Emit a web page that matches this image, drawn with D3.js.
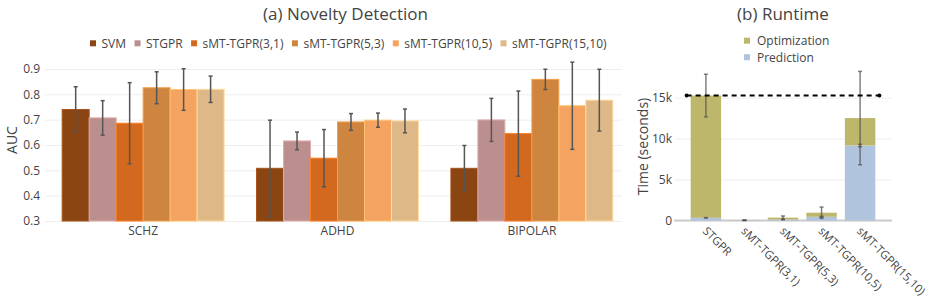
<!DOCTYPE html>
<html>
<head>
<meta charset="utf-8">
<script src="https://cdn.jsdelivr.net/npm/d3@7"></script>
<style>
	body { margin: 0; background: #fff; }
	text { font-family: "Open Sans", sans-serif; fill: #444; }
</style>
</head>
<body>
<svg id="chart" width="930" height="300"></svg>
<script>
// ---- (a) novelty detection data ----
const datasets = ['SCHZ', 'ADHD', 'BIPOLAR'];
const methods = ['SVM', 'STGPR', 'sMT-TGPR(3,1)', 'sMT-TGPR(5,3)', 'sMT-TGPR(10,5)', 'sMT-TGPR(15,10)'];
const methodColors = ['#8B4513', '#BC8F8F', '#D2691E', '#CD853F', '#F4A460', '#DEB887'];
// one row per method, columns follow datasets
const aucMean = [
	[0.740, 0.508, 0.508],
	[0.707, 0.616, 0.699],
	[0.686, 0.548, 0.645],
	[0.826, 0.691, 0.859],
	[0.819, 0.698, 0.755],
	[0.820, 0.695, 0.777]
];
const aucErr = [
	[0.090, 0.190, 0.090],
	[0.068, 0.035, 0.085],
	[0.160, 0.113, 0.168],
	[0.063, 0.033, 0.040],
	[0.082, 0.028, 0.172],
	[0.052, 0.047, 0.122]
];
const aucTicks = [0.3, 0.4, 0.5, 0.6, 0.7, 0.8, 0.9];

// ---- (b) runtime data (seconds) ----
const runModels = ['STGPR', 'sMT-TGPR(3,1)', 'sMT-TGPR(5,3)', 'sMT-TGPR(10,5)', 'sMT-TGPR(15,10)'];
const predTime = [330, 10, 120, 450, 9150];
const predErr = [20, 5, 30, 60, 150];
const optTime = [14920, 25, 230, 500, 3350];
const optErr = [2600, 15, 200, 690, 5700];
const timeTicks = [0, 5000, 10000, 15000];
const stgprLevel = 15250;
const stackNames = ['Optimization', 'Prediction'];
const stackColors = ['#BDB76B', '#B0C4DE'];

const svg = d3.select('#chart');

// ================= (a) =================
const aLeft = 45, aRight = 622;
const yA = d3.scaleLinear().domain([0.3, 0.9]).range([221, 69]);
const xA = d3.scaleBand().domain(datasets).range([46, 629])
	.paddingInner(0.167).paddingOuter(0.0833);
const xM = d3.scaleBand().domain(methods).range([0, xA.bandwidth()]);

const gA = svg.append('g');

const yAxisA = gA.append('g')
	.attr('transform', `translate(${aLeft},0)`)
	.call(d3.axisLeft(yA).tickValues(aucTicks).tickFormat(d3.format('.1f'))
		.tickSize(-(aRight - aLeft)).tickPadding(5));
yAxisA.select('.domain').remove();
yAxisA.selectAll('line').attr('stroke', '#eee');
yAxisA.selectAll('text').attr('font-size', 12).style('fill', '#444');

gA.append('text')
	.attr('transform', 'translate(17,140) rotate(-90)')
	.attr('text-anchor', 'middle')
	.attr('font-size', 14)
	.text('AUC');

const barsA = [];
methods.forEach((m, i) => {
	datasets.forEach((ds, j) => {
		barsA.push({ method: m, i: i, dataset: ds, value: aucMean[i][j], err: aucErr[i][j] });
	});
});

gA.selectAll('.bar')
	.data(barsA)
	.enter()
	.append('rect')
	.attr('class', 'bar')
	.attr('x', d => xA(d.dataset) + xM(d.method))
	.attr('y', d => yA(d.value))
	.attr('width', xM.bandwidth())
	.attr('height', d => yA(0.3) - yA(d.value))
	.attr('fill', d => methodColors[d.i])
	.attr('stroke', d => d3.color(methodColors[d.i]).brighter(0.5))
	.attr('stroke-width', 1);

const errA = gA.selectAll('.err')
	.data(barsA)
	.enter()
	.append('g')
	.attr('class', 'err')
	.attr('stroke', '#555')
	.attr('stroke-width', 1.5);
errA.append('line')
	.attr('x1', d => xA(d.dataset) + xM(d.method) + xM.bandwidth() / 2)
	.attr('x2', d => xA(d.dataset) + xM(d.method) + xM.bandwidth() / 2)
	.attr('y1', d => yA(d.value + d.err))
	.attr('y2', d => yA(d.value - d.err));
[1, -1].forEach(s => {
	errA.append('line')
		.attr('x1', d => xA(d.dataset) + xM(d.method) + xM.bandwidth() / 2 - 2)
		.attr('x2', d => xA(d.dataset) + xM(d.method) + xM.bandwidth() / 2 + 2)
		.attr('y1', d => yA(d.value + s * d.err))
		.attr('y2', d => yA(d.value + s * d.err));
});

gA.selectAll('.cat')
	.data(datasets)
	.enter()
	.append('text')
	.attr('x', d => xA(d) + xA.bandwidth() / 2)
	.attr('y', 234.5)
	.attr('text-anchor', 'middle')
	.attr('font-size', 12)
	.text(d => d);

gA.append('text')
	.attr('x', 345.5).attr('y', 19.5)
	.attr('text-anchor', 'middle')
	.attr('font-size', 17)
	.text('(a) Novelty Detection');

// legend (a)
let lx = 90;
methods.forEach((m, i) => {
	const item = gA.append('g');
	item.append('rect')
		.attr('x', lx).attr('y', 40.3)
		.attr('width', 6).attr('height', 6)
		.attr('fill', methodColors[i]);
	const t = item.append('text')
		.attr('x', lx + 11.5).attr('y', 47.5)
		.attr('font-size', 12)
		.text(m);
	lx += 11.5 + t.node().getComputedTextLength() + 8.5;
});

// ================= (b) =================
const bLeft = 675, bRight = 892;
const xB = d3.scaleBand().domain(runModels).range([674, 892])
	.paddingInner(0.21).paddingOuter(0.4325);
const yB = d3.scaleLinear().domain([0, 15000]).range([220.5, 97.6]);

const gB = svg.append('g');

const yAxisB = gB.append('g')
	.attr('transform', `translate(${bLeft},0)`)
	.call(d3.axisLeft(yB).tickValues(timeTicks).tickFormat(d3.format('~s'))
		.tickSize(-(bRight - bLeft)).tickPadding(3));
yAxisB.select('.domain').remove();
yAxisB.selectAll('line').attr('stroke', '#eee');
yAxisB.selectAll('text').attr('font-size', 12).style('fill', '#444');

gB.append('line')
	.attr('x1', 674).attr('x2', bRight)
	.attr('y1', yB(0)).attr('y2', yB(0))
	.attr('stroke', '#ccc').attr('stroke-width', 2);

gB.append('text')
	.attr('transform', 'translate(648,146.5) rotate(-90)')
	.attr('text-anchor', 'middle')
	.attr('font-size', 14)
	.text('Time (seconds)');

const runRows = runModels.map((m, i) => ({
	model: m,
	pred: predTime[i], predErr: predErr[i],
	total: predTime[i] + optTime[i], optErr: optErr[i]
}));

// prediction (bottom) then optimization (top)
gB.selectAll('.pred')
	.data(runRows)
	.enter()
	.append('rect')
	.attr('x', d => xB(d.model))
	.attr('y', d => yB(d.pred))
	.attr('width', xB.bandwidth())
	.attr('height', d => yB(0) - yB(d.pred))
	.attr('fill', stackColors[1]);

gB.selectAll('.opt')
	.data(runRows)
	.enter()
	.append('rect')
	.attr('x', d => xB(d.model))
	.attr('y', d => yB(d.total))
	.attr('width', xB.bandwidth())
	.attr('height', d => yB(d.pred) - yB(d.total))
	.attr('fill', stackColors[0]);

const errRows = [];
runRows.forEach(d => {
	errRows.push({ model: d.model, v: d.pred, e: d.predErr });
	errRows.push({ model: d.model, v: d.total, e: d.optErr });
});
const errB = gB.selectAll('.errb')
	.data(errRows)
	.enter()
	.append('g')
	.attr('stroke', '#555')
	.attr('stroke-opacity', 0.75)
	.attr('stroke-width', 1.5);
const cx = d => xB(d.model) + xB.bandwidth() / 2;
errB.append('line')
	.attr('x1', cx).attr('x2', cx)
	.attr('y1', d => yB(d.v + d.e))
	.attr('y2', d => yB(Math.max(0, d.v - d.e)));
[1, -1].forEach(s => {
	errB.append('line')
		.attr('x1', d => cx(d) - 2).attr('x2', d => cx(d) + 2)
		.attr('y1', d => yB(Math.max(0, d.v + s * d.e)))
		.attr('y2', d => yB(Math.max(0, d.v + s * d.e)));
});

// dashed STGPR reference level
const refX0 = xB(runModels[0]) + xB.bandwidth() / 2 - xB.step() / 2;
const refX1 = xB(runModels[runModels.length - 1]) + xB.bandwidth() / 2 + xB.step() / 2;
gB.append('line')
	.attr('x1', refX0).attr('x2', refX1)
	.attr('y1', yB(stgprLevel)).attr('y2', yB(stgprLevel))
	.attr('stroke', '#000').attr('stroke-width', 2)
	.attr('stroke-dasharray', '5,4');
gB.selectAll('.refdot')
	.data([refX0, refX1])
	.enter()
	.append('circle')
	.attr('cx', d => d).attr('cy', yB(stgprLevel))
	.attr('r', 2).attr('fill', '#000');

gB.selectAll('.xlab')
	.data(runModels)
	.enter()
	.append('text')
	.attr('transform', d => `translate(${xB(d) + xB.bandwidth() / 2 - 1},229) rotate(45)`)
	.attr('dy', '0.35em')
	.attr('font-size', 11.5)
	.text(d => d);

gB.append('text')
	.attr('x', 783).attr('y', 19.5)
	.attr('text-anchor', 'middle')
	.attr('font-size', 17)
	.text('(b) Runtime');

stackNames.forEach((n, i) => {
	gB.append('rect')
		.attr('x', 744).attr('y', 37.7 + i * 16.5)
		.attr('width', 6).attr('height', 6)
		.attr('fill', stackColors[i]);
	gB.append('text')
		.attr('x', 757).attr('y', 45 + i * 16.5)
		.attr('font-size', 12)
		.text(n);
});
</script>
</body>
</html>
